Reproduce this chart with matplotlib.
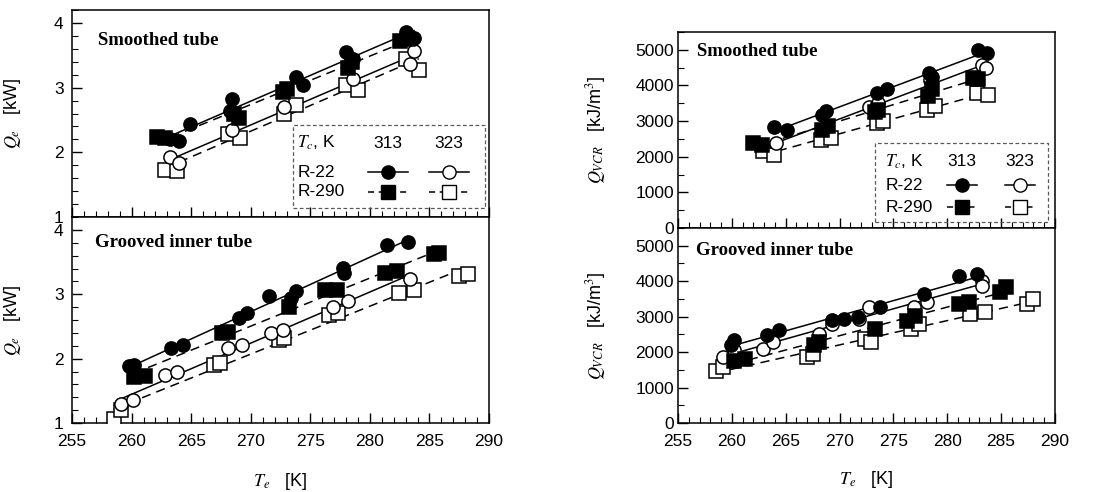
import numpy as np
import matplotlib
matplotlib.use('Agg')
import matplotlib.pyplot as plt
from matplotlib.patches import Rectangle
from matplotlib.ticker import MultipleLocator

plt.rcParams['font.family'] = ['Liberation Sans', 'DejaVu Sans']
plt.rcParams['mathtext.fontset'] = 'stix'

# ---- smoothed tube, cooling capacity Q_e [kW]
st_qe_r22_313_x = [263.2, 264.0, 264.9, 268.3, 268.4, 273.8, 274.4, 278.0, 278.6, 283.0, 283.7]
st_qe_r22_313_y = [2.21, 2.18, 2.44, 2.64, 2.82, 3.16, 3.04, 3.55, 3.45, 3.86, 3.77]
st_qe_r290_313_x = [262.1, 262.8, 268.6, 269.0, 272.7, 273.0, 278.2, 278.5, 282.5, 283.2]
st_qe_r290_313_y = [2.24, 2.22, 2.60, 2.53, 2.93, 2.98, 3.31, 3.40, 3.72, 3.75]
st_qe_r22_323_x = [263.2, 264.0, 268.4, 272.8, 278.6, 283.4, 283.7]
st_qe_r22_323_y = [1.93, 1.83, 2.34, 2.70, 3.14, 3.36, 3.57]
st_qe_r290_323_x = [262.8, 263.8, 268.1, 269.1, 272.8, 273.8, 278.0, 279.0, 283.0, 284.1]
st_qe_r290_323_y = [1.73, 1.71, 2.29, 2.22, 2.60, 2.73, 3.04, 2.96, 3.45, 3.28]

# ---- grooved inner tube, Q_e [kW]
gr_qe_r22_313_x = [259.8, 260.2, 263.3, 264.3, 269.0, 269.7, 271.5, 273.4, 273.8, 277.7, 277.8, 281.4, 283.2]
gr_qe_r22_313_y = [1.88, 1.90, 2.16, 2.21, 2.63, 2.71, 2.97, 2.94, 3.05, 3.41, 3.33, 3.76, 3.81]
gr_qe_r290_313_x = [260.2, 261.1, 267.6, 268.1, 273.2, 276.2, 277.2, 281.3, 282.3, 285.4, 285.8]
gr_qe_r290_313_y = [1.72, 1.73, 2.40, 2.42, 2.81, 3.07, 3.07, 3.33, 3.36, 3.62, 3.64]
gr_qe_r22_323_x = [259.1, 260.1, 262.8, 263.8, 268.1, 269.3, 271.7, 272.7, 276.9, 278.2, 283.4]
gr_qe_r22_323_y = [1.30, 1.35, 1.74, 1.80, 2.16, 2.21, 2.40, 2.45, 2.81, 2.89, 3.23]
gr_qe_r290_323_x = [258.5, 259.1, 266.9, 267.4, 272.4, 272.8, 276.6, 277.3, 282.4, 283.7, 287.5, 288.2]
gr_qe_r290_323_y = [1.07, 1.20, 1.90, 1.93, 2.29, 2.32, 2.68, 2.71, 3.02, 3.07, 3.28, 3.31]

# ---- smoothed tube, volumetric capacity Q_VCR [kJ/m3]
st_vc_r22_313_x = [263.9, 265.1, 268.4, 268.7, 273.5, 274.4, 278.3, 278.6, 282.9, 283.7]
st_vc_r22_313_y = [2820, 2760, 3180, 3270, 3800, 3900, 4350, 4250, 5000, 4900]
st_vc_r290_313_x = [262.0, 262.8, 268.4, 268.9, 273.3, 273.6, 278.2, 278.6, 282.4, 282.9]
st_vc_r290_313_y = [2390, 2330, 2750, 2850, 3250, 3320, 3700, 3900, 4200, 4180]
st_vc_r22_323_x = [264.1, 268.7, 272.7, 273.6, 278.4, 283.2, 283.6]
st_vc_r22_323_y = [2380, 2830, 3400, 3500, 4150, 4580, 4480]
st_vc_r290_323_x = [262.9, 263.9, 268.3, 269.2, 273.5, 274.0, 278.1, 278.9, 282.8, 283.8]
st_vc_r290_323_y = [2150, 2060, 2480, 2520, 2940, 2990, 3320, 3430, 3790, 3740]

# ---- grooved inner tube, Q_VCR [kJ/m3]
gr_vc_r22_313_x = [259.9, 260.2, 263.3, 264.4, 269.3, 270.4, 271.7, 273.8, 277.8, 281.1, 282.8]
gr_vc_r22_313_y = [2190, 2330, 2470, 2610, 2900, 2940, 2990, 3270, 3640, 4160, 4190]
gr_vc_r290_313_x = [260.2, 261.2, 267.6, 268.1, 273.3, 276.3, 277.0, 281.1, 282.0, 284.9, 285.5]
gr_vc_r290_313_y = [1760, 1810, 2190, 2280, 2660, 2890, 3030, 3360, 3400, 3690, 3830]
gr_vc_r22_323_x = [259.2, 260.2, 262.9, 263.8, 268.1, 269.3, 271.8, 272.7, 276.9, 278.1, 283.2, 283.2]
gr_vc_r22_323_y = [1860, 2050, 2090, 2280, 2510, 2800, 2940, 3270, 3270, 3400, 4020, 3870]
gr_vc_r290_323_x = [258.5, 259.2, 267.0, 267.5, 272.4, 272.9, 276.6, 277.4, 282.1, 283.5, 287.4, 288.0]
gr_vc_r290_323_y = [1480, 1580, 1860, 1950, 2370, 2280, 2660, 2800, 3080, 3120, 3360, 3500]

DASH = (0, (6, 4))
MS = 9.5


def series(ax, x, y, filled, marker, dashed):
    x = np.array(x)
    y = np.array(y)
    k, b = np.polyfit(x, y, 1)
    xl = np.array([x.min(), x.max()])
    ax.plot(xl, k * xl + b, color='black', lw=1.1,
            linestyle=DASH if dashed else '-', zorder=2)
    ax.plot(x, y, linestyle='none', marker=marker, ms=MS,
            mfc='black' if filled else 'white', mec='black', mew=1.1, zorder=3)


def panel(ax, data, ylim, major, minor, title, tx, ty, ypad):
    r22_313, r290_313, r22_323, r290_323 = data
    series(ax, *r290_323, False, 's', True)
    series(ax, *r22_323, False, 'o', False)
    series(ax, *r290_313, True, 's', True)
    series(ax, *r22_313, True, 'o', False)
    ax.set_xlim(255, 290)
    ax.set_ylim(*ylim)
    ax.xaxis.set_major_locator(MultipleLocator(5))
    ax.xaxis.set_minor_locator(MultipleLocator(1))
    ax.yaxis.set_major_locator(MultipleLocator(major))
    ax.yaxis.set_minor_locator(MultipleLocator(minor))
    ax.tick_params(which='both', direction='in', top=False, right=False, labelsize=12.5)
    ax.tick_params(which='major', length=7, width=1)
    ax.tick_params(which='minor', length=4, width=0.8)
    ax.tick_params(axis='x', pad=8)
    ax.tick_params(axis='y', pad=ypad)
    for s in ax.spines.values():
        s.set_linewidth(1.1)
    ax.text(tx, ty, title, transform=ax.transAxes, fontfamily='Liberation Serif',
            fontweight='bold', fontsize=13.5, va='center', ha='left')


def legend_box(ax, box, rows, cols, xt, d):
    x0, y0, x1, y1 = box
    ax.add_patch(Rectangle((x0, y0), x1 - x0, y1 - y0, transform=ax.transAxes,
                           fill=False, ec='0.35', lw=0.9, linestyle=(0, (3, 2)), zorder=4))
    yh, yr22, yr290 = rows
    c313, c323 = cols
    ax.text(xt, yh, r'$T_c$, K', transform=ax.transAxes, fontsize=12.5, va='center', ha='left')
    ax.text(c313, yh, '313', transform=ax.transAxes, fontsize=12.5, va='center', ha='center')
    ax.text(c323, yh, '323', transform=ax.transAxes, fontsize=12.5, va='center', ha='center')
    ax.text(xt, yr22, 'R-22', transform=ax.transAxes, fontsize=12.5, va='center', ha='left')
    ax.text(xt, yr290, 'R-290', transform=ax.transAxes, fontsize=12.5, va='center', ha='left')
    for c, filled in [(c313, True), (c323, False)]:
        for yy, m, dashed in [(yr22, 'o', False), (yr290, 's', True)]:
            ax.plot([c - d, c, c + d], [yy, yy, yy], transform=ax.transAxes, color='black',
                    lw=1.1, linestyle=(0, (4, 3)) if dashed else '-', marker=m, ms=MS,
                    markevery=[1], mfc='black' if filled else 'white', mec='black', zorder=5)


fig = plt.figure(figsize=(11.08, 4.92), dpi=100)

ax1 = fig.add_axes([0.0650, 0.5589, 0.3764, 0.4207])
ax2 = fig.add_axes([0.0650, 0.1402, 0.3764, 0.4187], sharex=ax1)
ax3 = fig.add_axes([0.6120, 0.5366, 0.3400, 0.3984])
ax4 = fig.add_axes([0.6120, 0.1402, 0.3400, 0.3963], sharex=ax3)

panel(ax1, [(st_qe_r22_313_x, st_qe_r22_313_y), (st_qe_r290_313_x, st_qe_r290_313_y),
            (st_qe_r22_323_x, st_qe_r22_323_y), (st_qe_r290_323_x, st_qe_r290_323_y)],
      (1, 4.2), 1, 0.2, 'Smoothed tube', 0.062, 0.855, 6)
panel(ax2, [(gr_qe_r22_313_x, gr_qe_r22_313_y), (gr_qe_r290_313_x, gr_qe_r290_313_y),
            (gr_qe_r22_323_x, gr_qe_r22_323_y), (gr_qe_r290_323_x, gr_qe_r290_323_y)],
      (1, 4.2), 1, 0.2, 'Grooved inner tube', 0.055, 0.874, 6)
panel(ax3, [(st_vc_r22_313_x, st_vc_r22_313_y), (st_vc_r290_313_x, st_vc_r290_313_y),
            (st_vc_r22_323_x, st_vc_r22_323_y), (st_vc_r290_323_x, st_vc_r290_323_y)],
      (0, 5500), 1000, 500, 'Smoothed tube', 0.05, 0.898, 3)
panel(ax4, [(gr_vc_r22_313_x, gr_vc_r22_313_y), (gr_vc_r290_313_x, gr_vc_r290_313_y),
            (gr_vc_r22_323_x, gr_vc_r22_323_y), (gr_vc_r290_323_x, gr_vc_r290_323_y)],
      (0, 5500), 1000, 500, 'Grooved inner tube', 0.047, 0.887, 3)

for ax in (ax1, ax3):
    ax.tick_params(labelbottom=False)

for ax in (ax1, ax2):
    ax.set_ylabel(r'$Q_e$   [kW]', fontsize=13)
    ax.yaxis.set_label_coords(-0.118, 0.5)
for ax in (ax3, ax4):
    ax.set_ylabel(r'$Q_{VCR}$   [kJ/m$^3$]', fontsize=13)
    ax.yaxis.set_label_coords(-0.185, 0.5)
for ax in (ax2, ax4):
    ax.set_xlabel(r'$T_e$   [K]', fontsize=13)
    ax.xaxis.set_label_coords(0.5, -0.235)

legend_box(ax1, (0.530, 0.043, 0.990, 0.444), (0.357, 0.217, 0.121), (0.758, 0.904), 0.540, 0.048)
legend_box(ax3, (0.524, 0.031, 0.981, 0.434), (0.337, 0.219, 0.107), (0.753, 0.907), 0.550, 0.040)

fig.savefig('out.png', dpi=100)
